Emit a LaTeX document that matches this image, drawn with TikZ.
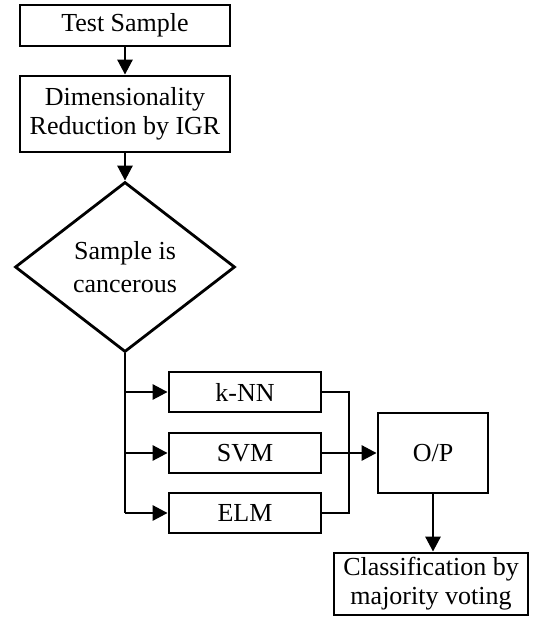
\documentclass[tikz,border=0pt]{standalone}
\usepackage{fontspec}
\setmainfont{Liberation Serif}
\usetikzlibrary{arrows.meta,shapes.geometric}
\begin{document}
\begin{tikzpicture}[x=0.5pt,y=-0.5pt,
  box/.style={draw,line width=1.4pt,inner sep=0pt,align=center,
    font=\fontsize{13}{14.5}\selectfont},
  conn/.style={line width=1.4pt},
  arr/.style={conn,-{Triangle[length=7.5pt,width=7.5pt]}}]
\useasboundingbox (0,0) rectangle (538,626);
\node[box,minimum width=105pt,minimum height=20.5pt] (test) at (125,25.5) {Test Sample};
\node[box,minimum width=105pt,minimum height=38pt] (dim) at (125,114) {Dimensionality\\Reduction by IGR};
\node[box,shape=diamond,minimum width=110pt,minimum height=85pt] (dec) at (125,267) {Sample is\\[2pt]cancerous};
\node[box,minimum width=76pt,minimum height=20pt] (knn) at (245,392) {k-NN};
\node[box,minimum width=76pt,minimum height=20pt] (svm) at (245,453) {SVM};
\node[box,minimum width=76pt,minimum height=20pt] (elm) at (245,513) {ELM};
\node[box,minimum width=55pt,minimum height=40pt] (op) at (433,453) {O/P};
\node[box,minimum width=97pt,minimum height=31pt] (cls) at (431,584) {Classification by\\majority voting};
\coordinate (b1) at (125,392);
\coordinate (b2) at (125,453);
\coordinate (b3) at (125,513);
\coordinate (m1) at (349,392);
\coordinate (m3) at (349,513);
\draw[arr] (test) -- (dim);
\draw[arr] (dim) -- (dec.north);
\draw[conn] (dec.south) -- (b3);
\draw[arr] (b1) -- (knn);
\draw[arr] (b2) -- (svm);
\draw[arr] (b3) -- (elm);
\draw[conn] (knn.east) -- (m1) -- (m3) -- (elm.east);
\draw[arr] (svm.east) -- (op.west);
\draw[arr] (op.south) -- (op.south |- cls.north);
\end{tikzpicture}
\end{document}
